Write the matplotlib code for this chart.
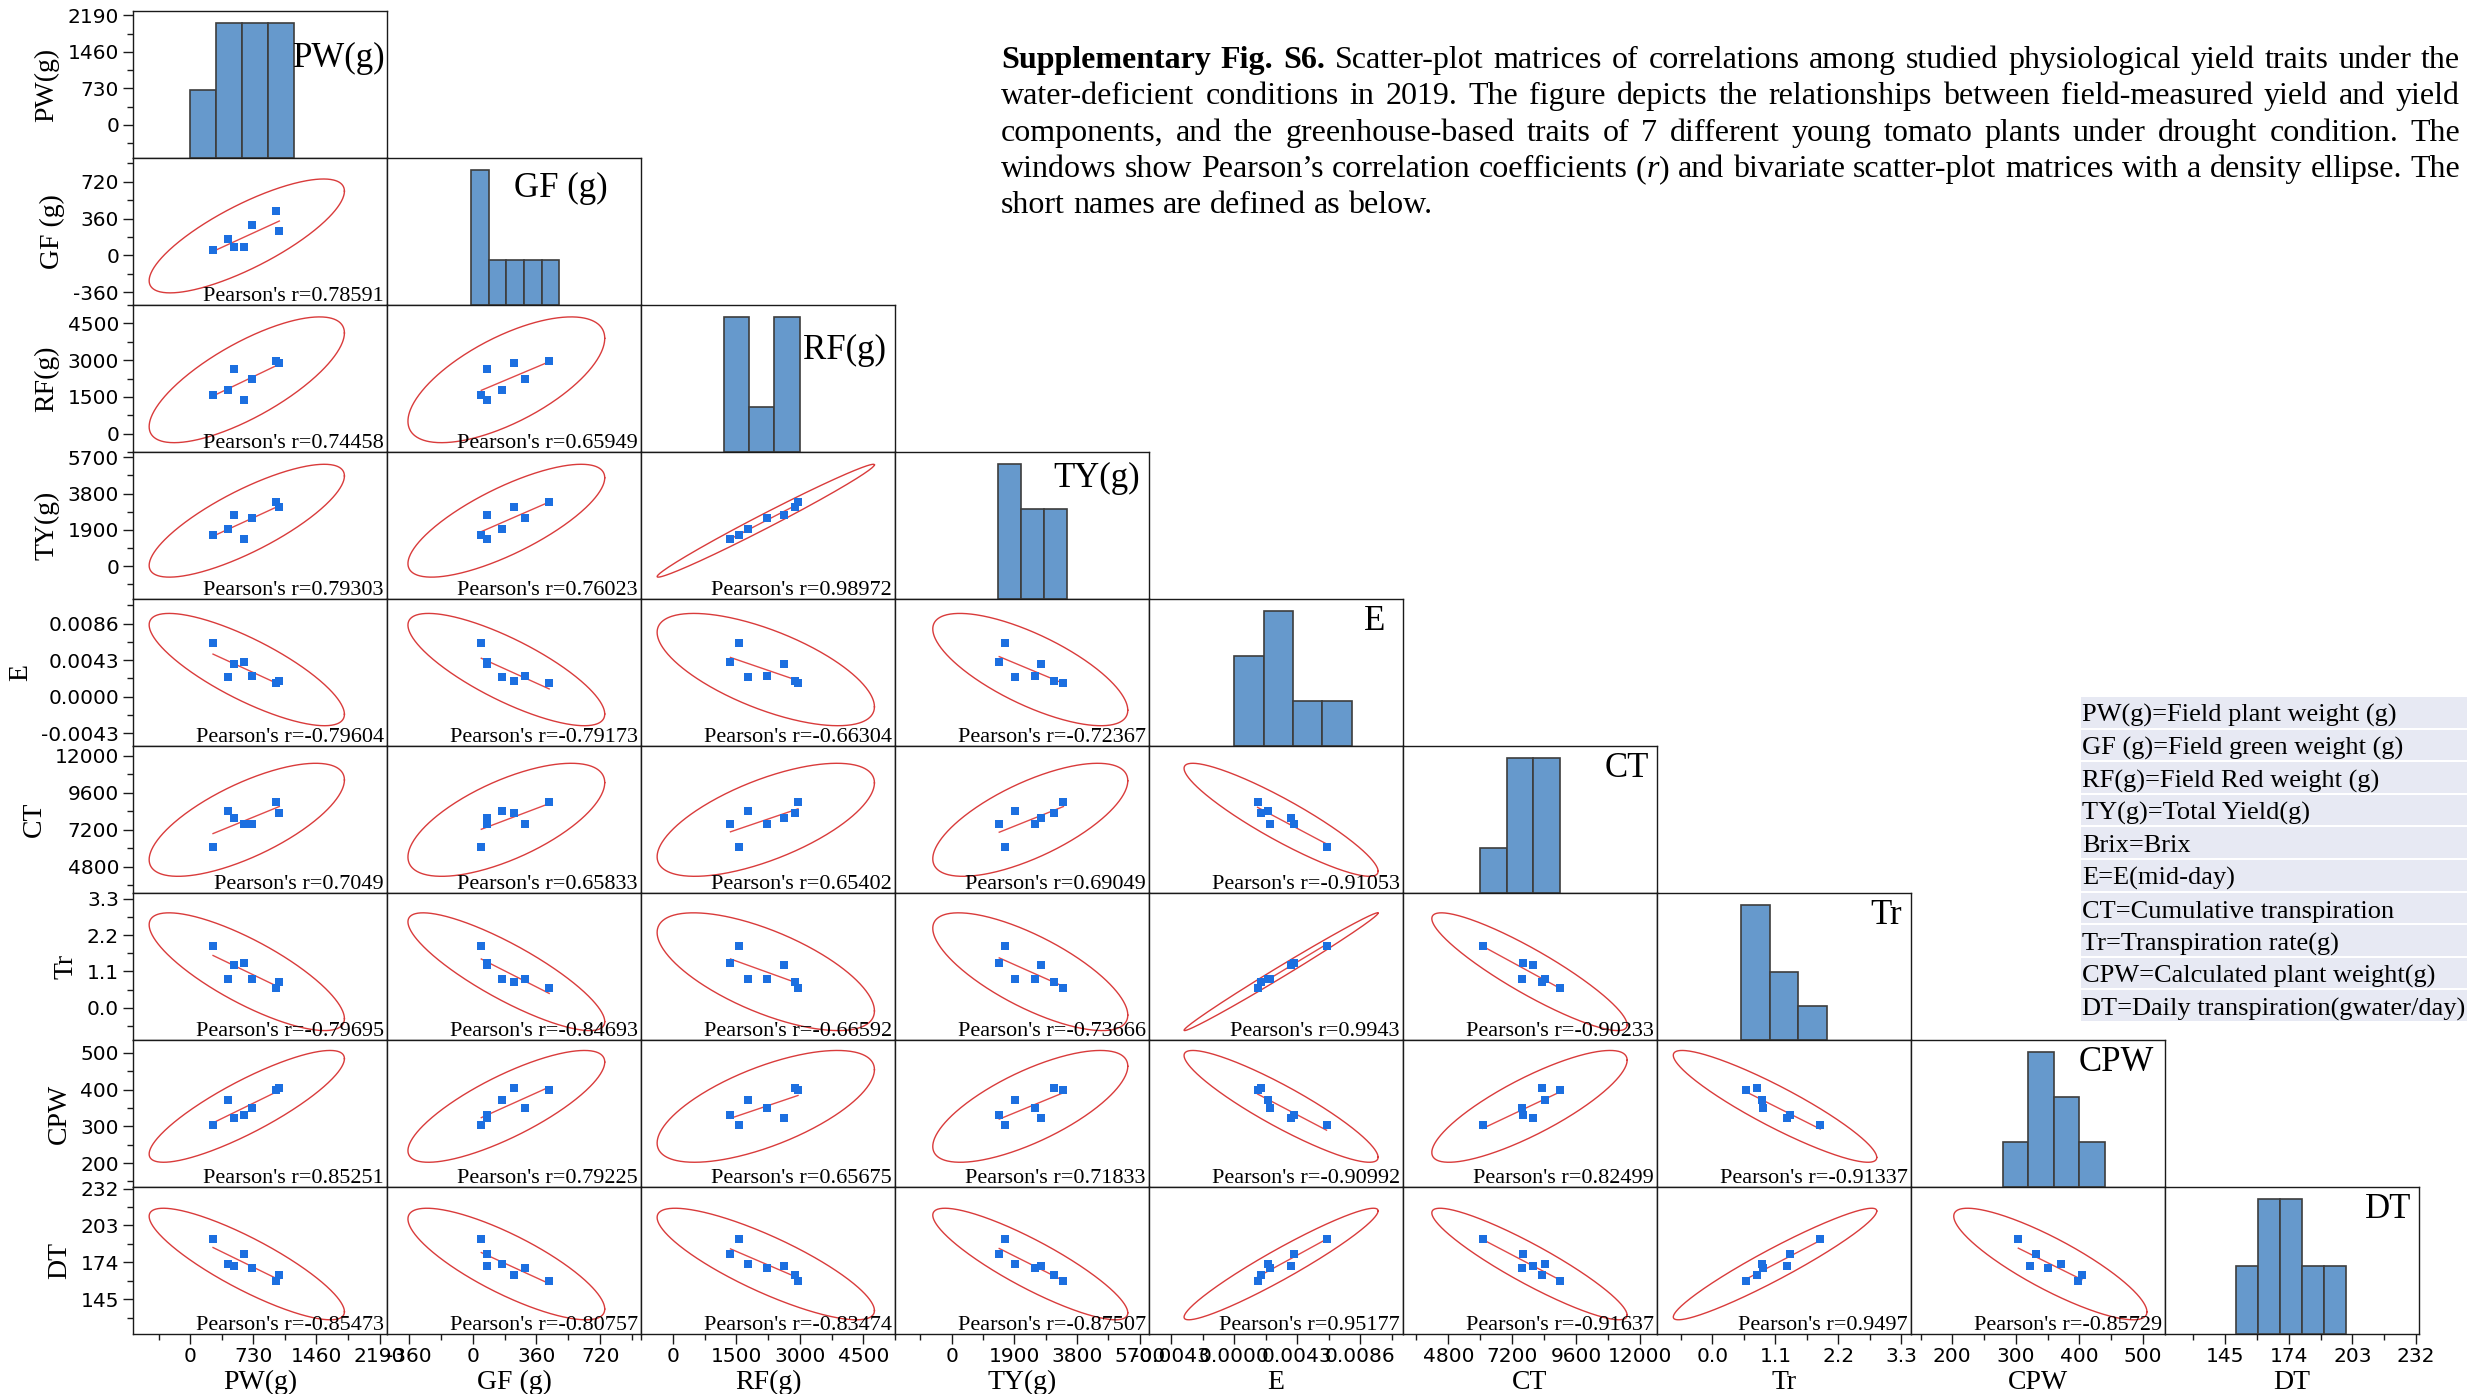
import numpy as np
import matplotlib
matplotlib.use("Agg")
import matplotlib.pyplot as plt
from matplotlib.ticker import FixedLocator, MultipleLocator, FormatStrFormatter
from matplotlib.patches import Rectangle

plt.rcParams["axes.unicode_minus"] = False
plt.rcParams["font.family"] = ["DejaVu Sans"]
SERIF = ["Liberation Serif", "DejaVu Serif"]

# ---------------- data: seven young tomato plants, nine traits ----------------
trait_names = ["PW(g)", "GF (g)", "RF(g)", "TY(g)", "E", "CT", "Tr", "CPW", "DT"]
pw = [263, 440, 509, 621, 717, 995, 1030]
gf = [49, 164, 79, 79, 293, 432, 236]
rf = [1568, 1773, 2618, 1364, 2223, 2959, 2877]
ty = [1615, 1930, 2697, 1440, 2510, 3385, 3090]
e_mid = [0.00629, 0.00230, 0.00384, 0.00406, 0.00245, 0.00160, 0.00183]
ct = [6093, 8441, 7967, 7590, 7570, 8980, 8311]
tr = [1.884, 0.864, 1.301, 1.361, 0.881, 0.590, 0.770]
cpw = [304, 371, 322, 332, 350, 398, 404]
dt = [192.4, 172.5, 171.0, 180.6, 169.4, 159.1, 163.8]
trait_values = [pw, gf, rf, ty, e_mid, ct, tr, cpw, dt]

# Pearson's r for the lower triangle (row trait vs. column trait)
pearson_r = [
    [],
    [0.78591],
    [0.74458, 0.65949],
    [0.79303, 0.76023, 0.98972],
    [-0.79604, -0.79173, -0.66304, -0.72367],
    [0.7049, 0.65833, 0.65402, 0.69049, -0.91053],
    [-0.79695, -0.84693, -0.66592, -0.73666, 0.9943, -0.90233],
    [0.85251, 0.79225, 0.65675, 0.71833, -0.90992, 0.82499, -0.91337],
    [-0.85473, -0.80757, -0.83474, -0.87507, 0.95177, -0.91637, 0.9497, -0.85729],
]

axis_ranges = [(-663, 2276), (-483, 950), (-750, 5250), (-1720, 5980),
               (-0.0058, 0.0115), (3100, 12640), (-0.97, 3.47), (135, 535),
               (117.6, 233.3)]
axis_ticks = [[0, 730, 1460, 2190], [-360, 0, 360, 720], [0, 1500, 3000, 4500],
              [0, 1900, 3800, 5700], [-0.0043, 0.0, 0.0043, 0.0086],
              [4800, 7200, 9600, 12000], [0.0, 1.1, 2.2, 3.3],
              [200, 300, 400, 500], [145, 174, 203, 232]]
tick_formats = ["%d", "%d", "%d", "%d", "%.4f", "%d", "%.1f", "%d", "%d"]
hist_edges = [[0, 300, 600, 900, 1200],
              [-10, 90, 190, 290, 390, 490],
              [1200, 1800, 2400, 3000],
              [1400, 2100, 2800, 3500],
              [0, 0.002, 0.004, 0.006, 0.008],
              [6000, 7000, 8000, 9000],
              [0.5, 1.0, 1.5, 2.0],
              [280, 320, 360, 400, 440],
              [150, 160, 170, 180, 190, 200]]
# anchor (right edge, vertical centre) of the trait name inside each histogram cell
diag_label_pos = [(0.995, 0.68), (0.87, 0.79), (0.965, 0.69), (0.965, 0.82),
                  (0.93, 0.85), (0.97, 0.85), (0.965, 0.85), (0.955, 0.85),
                  (0.97, 0.85)]

caption_lines = [
    "Supplementary Fig. S6. Scatter-plot matrices of correlations among studied physiological yield traits under the",
    "water-deficient conditions in 2019. The figure depicts the relationships between field-measured yield and yield",
    "components, and the greenhouse-based traits of 7 different young tomato plants under drought condition. The",
    "windows show Pearson\u2019s correlation coefficients (r) and bivariate scatter-plot matrices with a density ellipse. The",
    "short names are defined as below.",
]
legend_entries = [
    "PW(g)=Field plant weight (g)",
    "GF (g)=Field green weight (g)",
    "RF(g)=Field Red weight (g)",
    "TY(g)=Total Yield(g)",
    "Brix=Brix",
    "E=E(mid-day)",
    "CT=Cumulative transpiration",
    "Tr=Transpiration rate(g)",
    "CPW=Calculated plant weight(g)",
    "DT=Daily transpiration(gwater/day)",
]

# ---------------- styles ----------------
BAR_COLOR = "#6699cc"
BAR_EDGE = "#3d3d3d"
POINT_COLOR = "#1c6fe0"
FIT_COLOR = "#e04a4a"
ELLIPSE_COLOR = "#d93b3b"
FRAME_COLOR = "#1a1a1a"

W, H = 2468, 1394
fig = plt.figure(figsize=(W / 100, H / 100), dpi=100)
X0, Y0, CW, CH = 133, 11, 254, 147


def cell_rect(i, j):
    return [(X0 + j * CW) / W, 1 - (Y0 + (i + 1) * CH) / H, CW / W, CH / H]


n_traits = len(trait_names)
n_obs = len(pw)
# 95% prediction ellipse scale factor (F quantile with 2 and n-2 df)
dfd = n_obs - 2
f95 = (dfd / 2.0) * (0.05 ** (-2.0 / dfd) - 1.0)
k_ell = np.sqrt(2.0 * (n_obs - 1) * (n_obs + 1) / (n_obs * (n_obs - 2)) * f95)
theta = np.linspace(0, 2 * np.pi, 400)

for i in range(n_traits):
    for j in range(i + 1):
        ax = fig.add_axes(cell_rect(i, j))
        ax.set_xlim(axis_ranges[j])
        ax.set_ylim(axis_ranges[i])
        for sp in ax.spines.values():
            sp.set_color(FRAME_COLOR)
            sp.set_linewidth(1.0)
        ax.tick_params(which="both", left=False, bottom=False,
                       labelleft=False, labelbottom=False)
        if j == 0:
            step = axis_ticks[i][1] - axis_ticks[i][0]
            ax.yaxis.set_major_locator(FixedLocator(axis_ticks[i]))
            ax.yaxis.set_minor_locator(MultipleLocator(step / 2))
            ax.yaxis.set_major_formatter(FormatStrFormatter(tick_formats[i]))
            ax.tick_params(axis="y", which="major", left=True, labelleft=True,
                           direction="out", length=7, width=1.0,
                           labelsize=14.5, pad=3, color=FRAME_COLOR)
            ax.tick_params(axis="y", which="minor", left=True,
                           direction="out", length=4, width=1.0,
                           color=FRAME_COLOR)
            ax.set_ylabel(trait_names[i], family=SERIF, fontsize=20, labelpad=6)
        if i == n_traits - 1:
            step = axis_ticks[j][1] - axis_ticks[j][0]
            ax.xaxis.set_major_locator(FixedLocator(axis_ticks[j]))
            ax.xaxis.set_minor_locator(MultipleLocator(step / 2))
            ax.xaxis.set_major_formatter(FormatStrFormatter(tick_formats[j]))
            ax.tick_params(axis="x", which="major", bottom=True, labelbottom=True,
                           direction="out", length=7, width=1.0,
                           labelsize=14.5, pad=2, color=FRAME_COLOR)
            ax.tick_params(axis="x", which="minor", bottom=True,
                           direction="out", length=4, width=1.0,
                           color=FRAME_COLOR)
            ax.set_xlabel(trait_names[j], family=SERIF, fontsize=20, labelpad=3)

        if i == j:
            # histogram of the trait on its own count scale
            vals = np.asarray(trait_values[i], dtype=float)
            counts, edges = np.histogram(vals, bins=hist_edges[i])
            hax = fig.add_axes(cell_rect(i, j))
            hax.set_xlim(axis_ranges[i])
            hax.set_ylim(0, counts.max() / 0.92)
            hax.bar(edges[:-1], counts, width=np.diff(edges), align="edge",
                    color=BAR_COLOR, edgecolor=BAR_EDGE, linewidth=1.2)
            hax.axis("off")
            lx, ly = diag_label_pos[i]
            hax.text(lx, ly, trait_names[i], transform=hax.transAxes,
                     ha="right", va="center", family=SERIF, fontsize=25)
        else:
            xv = np.asarray(trait_values[j], dtype=float)
            yv = np.asarray(trait_values[i], dtype=float)
            r = pearson_r[i][j]
            mx, my = xv.mean(), yv.mean()
            sx, sy = xv.std(ddof=1), yv.std(ddof=1)
            # prediction ellipse
            ex = mx + k_ell * sx * np.cos(theta)
            ey = my + k_ell * sy * (r * np.cos(theta) + np.sqrt(1 - r * r) * np.sin(theta))
            ax.plot(ex, ey, color=ELLIPSE_COLOR, lw=1.0, zorder=2)
            # least-squares line over the data span
            lxv = np.array([xv.min(), xv.max()])
            ax.plot(lxv, my + r * sy / sx * (lxv - mx), color=FIT_COLOR,
                    lw=1.0, zorder=2)
            ax.scatter(xv, yv, marker="s", s=34, color=POINT_COLOR,
                       linewidths=0, zorder=3)
            ax.text(0.988, 0.03, "Pearson's r=%s" % r, transform=ax.transAxes,
                    ha="right", va="baseline", family=SERIF, fontsize=16,
                    zorder=4)

# ---------------- justified caption ----------------
renderer = fig.canvas.get_renderer()


def word_segments(li, wi, word):
    if li == 0 and wi < 3:
        return [(word, "bold", "normal")]
    if word == "(r)":
        return [("(", "normal", "normal"), ("r", "normal", "italic"),
                (")", "normal", "normal")]
    return [(word, "normal", "normal")]


def text_width(s, size, weight, style):
    tt = fig.text(0, 0, s, fontsize=size, family=SERIF, weight=weight, style=style)
    w = tt.get_window_extent(renderer).width
    tt.remove()
    return w


CAP_LEFT, CAP_RIGHT = 1001, 2460
cap_size = 24.0
while True:
    ok = True
    for li, line in enumerate(caption_lines[:-1]):
        words = line.split(" ")
        tot = sum(text_width(s, cap_size, wt, st)
                  for wi, w in enumerate(words) for s, wt, st in word_segments(li, wi, w))
        gap = (CAP_RIGHT - CAP_LEFT - tot) / (len(words) - 1)
        if gap < 0.24 * cap_size * 100 / 72:
            ok = False
            break
    if ok or cap_size <= 14:
        break
    cap_size -= 0.25

space_px = 0.25 * cap_size * 100 / 72
for li, line in enumerate(caption_lines):
    words = line.split(" ")
    segs = [word_segments(li, wi, w) for wi, w in enumerate(words)]
    widths = [[text_width(s, cap_size, wt, st) for s, wt, st in sg] for sg in segs]
    tot = sum(sum(w) for w in widths)
    if li < len(caption_lines) - 1:
        gap = (CAP_RIGHT - CAP_LEFT - tot) / (len(words) - 1)
    else:
        gap = space_px
    base_y = 68 + 36.3 * li
    x = CAP_LEFT
    for sg, wl in zip(segs, widths):
        for (s, wt, st), w in zip(sg, wl):
            fig.text(x / W, 1 - base_y / H, s, fontsize=cap_size, family=SERIF,
                     weight=wt, style=st, ha="left", va="baseline")
            x += w
        x += gap

# ---------------- abbreviation key ----------------
KEY_LEFT, KEY_RIGHT, KEY_TOP, KEY_ROW = 2081, 2467, 697, 32.6
for k, entry in enumerate(legend_entries):
    top = KEY_TOP + KEY_ROW * k
    fig.add_artist(Rectangle((KEY_LEFT / W, 1 - (top + KEY_ROW - 2) / H),
                             (KEY_RIGHT - KEY_LEFT) / W, (KEY_ROW - 2) / H,
                             transform=fig.transFigure, facecolor="#e7e9f3",
                             edgecolor="none", zorder=0))
    fig.text((KEY_LEFT + 1) / W, 1 - (top + 25) / H, entry, fontsize=19,
             family=SERIF, ha="left", va="baseline")

fig.savefig("out.png", dpi=100, facecolor="white")
